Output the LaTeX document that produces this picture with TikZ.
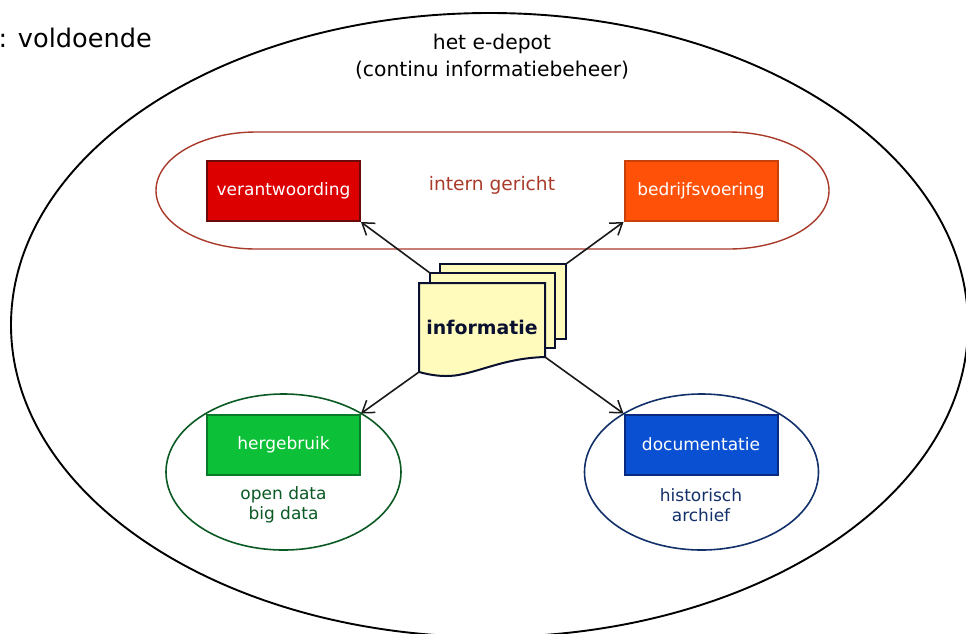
\documentclass[tikz,border=0pt]{standalone}
\usepackage{fontspec}
\setmainfont{DejaVu Sans}
\usetikzlibrary{arrows.meta}
\definecolor{ringred}{HTML}{A93A2A}
\definecolor{ringgreen}{HTML}{0B5A24}
\definecolor{ringblue}{HTML}{12306A}
\definecolor{sheet}{HTML}{FFFBBC}
\definecolor{docline}{HTML}{0A1030}
\definecolor{boxred}{HTML}{DC0000}
\definecolor{edgered}{HTML}{6A0A0A}
\definecolor{boxorange}{HTML}{FF5208}
\definecolor{edgeorange}{HTML}{C8400A}
\definecolor{boxgreen}{HTML}{0CC038}
\definecolor{edgegreen}{HTML}{0A7A2A}
\definecolor{boxblue}{HTML}{0A50D2}
\definecolor{edgeblue}{HTML}{0A2A80}
\tikzset{
  x=1pt,y=-1pt,
  labelbox/.style={minimum width=153pt,minimum height=60pt,inner sep=0pt,line width=2pt,text=white,font=\fontsize{17}{20}\selectfont},
  ringtext/.style={align=center,inner sep=0pt,font=\fontsize{17}{20}\selectfont},
  sheetline/.style={draw=docline,fill=sheet,line width=2pt,line join=miter},
  conn/.style={draw=black!90,line width=1.6pt,-{Straight Barb[length=11pt,width=15pt,line width=1.5pt]}},
}
\begin{document}
\begin{tikzpicture}
\path[use as bounding box] (0,0) rectangle (966,633);
\clip (0,0) rectangle (966,633);
\fill[white] (0,0) rectangle (966,633);
\draw[black,line width=1.9pt] (489.5,325) ellipse [x radius=478.5,y radius=312];
\node[anchor=base east,inner sep=0pt,font=\fontsize{25.6}{30}\selectfont] (kop) at (152,47) {: voldoende};
\node[align=center,inner sep=0pt,font=\fontsize{20.3}{27}\selectfont] (depot) at (492,56.5) {het e-depot\\(continu informatiebeheer)};
\draw[ringred,line width=1.4pt] (256,132) -- (729,132) .. controls (784.2,132) and (829,158.2) .. (829,190.5) .. controls (829,222.8) and (784.2,249) .. (729,249) -- (256,249) .. controls (200.8,249) and (156,222.8) .. (156,190.5) .. controls (156,158.2) and (200.8,132) .. (256,132) -- cycle;
\node[ringtext,text=ringred,font=\fontsize{18.6}{22}\selectfont] (intern) at (492,185) {intern gericht};
\draw[ringgreen,line width=1.6pt] (283.5,472) ellipse [x radius=117.5,y radius=78];
\draw[ringblue,line width=1.6pt] (701.5,472) ellipse [x radius=117,y radius=78];
\node[labelbox,fill=boxred,draw=edgered] (ver) at (283.5,191) {verantwoording};
\node[labelbox,fill=boxorange,draw=edgeorange] (bed) at (701,191) {bedrijfsvoering};
\node[labelbox,fill=boxgreen,draw=edgegreen] (her) at (283.5,444.5) {hergebruik};
\node[labelbox,fill=boxblue,draw=edgeblue] (doc) at (701,444.5) {documentatie};
\node[ringtext,text=ringgreen] (open) at (283.5,505) {open data\\big data};
\node[ringtext,text=ringblue] (hist) at (701,505) {historisch\\archief};
\draw[sheetline] (440,264) rectangle (566,339);
\draw[sheetline] (430,273) rectangle (555,348);
\draw[sheetline] (419,283) -- (545,283) -- (545,357) .. controls (505,358) and (480,372) .. (455,375.5) .. controls (442,377) and (430,375) .. (419,372) -- cycle;
\node[inner sep=0pt,text=docline,font=\bfseries\fontsize{18.9}{22}\selectfont] (info) at (482,327.5) {informatie};
\coordinate (tl) at (430,273);
\coordinate (tr) at (566,264);
\coordinate (bl) at (419,372);
\coordinate (br) at (545,357);
\draw[conn] (tl) -- (ver.south east);
\draw[conn] (tr) -- (bed.south west);
\draw[conn] (bl) -- (her.north east);
\draw[conn] (br) -- (doc.north west);
\end{tikzpicture}
\end{document}
